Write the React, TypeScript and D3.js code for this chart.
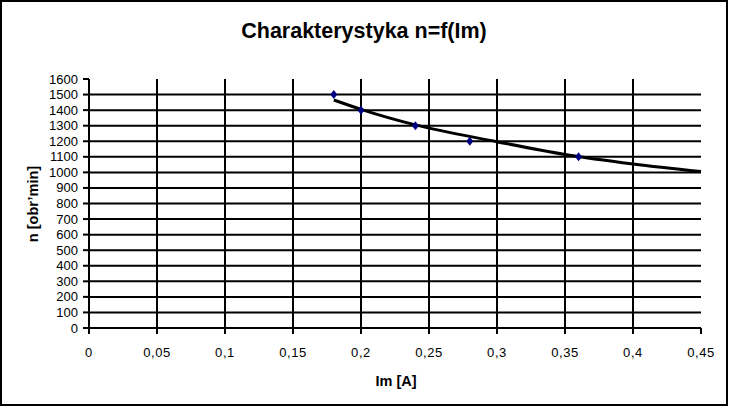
import React from "react";
import * as d3 from "d3";

const title = "Charakterystyka n=f(Im)";
const xTitle = "Im [A]";
const yTitle = "n [obr’min]";

// measured points
const currentA = [0.18, 0.2, 0.24, 0.28, 0.36];
const speedRpm = [1500, 1400, 1300, 1200, 1100];

// trend curve
const trendI = [0.18, 0.2, 0.24, 0.3, 0.35, 0.4, 0.45];
const trendN = [1465, 1405, 1305, 1197, 1115, 1054, 1005];

const xTicks = [0, 0.05, 0.1, 0.15, 0.2, 0.25, 0.3, 0.35, 0.4, 0.45];
const yTicks = d3.range(0, 1601, 100);

const W = 730;
const H = 407;
const left = 89;
const right = 701;
const top = 79;
const bottom = 328;

export default function App() {
  const x = d3.scaleLinear().domain([0, 0.45]).range([left, right]);
  const y = d3.scaleLinear().domain([0, 1600]).range([bottom, top]);
  const fmt = (v: number) => String(+v.toFixed(2)).replace(".", ",");

  const line = d3
    .line<[number, number]>()
    .x((d) => x(d[0]))
    .y((d) => y(d[1]))
    .curve(d3.curveMonotoneX);
  const trend: [number, number][] = trendI.map((v, i) => [v, trendN[i]]);

  const font = "'Liberation Sans', Arial, sans-serif";

  return (
    <svg
      width={W}
      height={H}
      style={{ position: "absolute", left: 0, top: 0, background: "#fff" }}
      fontFamily={font}
    >
      <rect x={1} y={1} width={726} height={404} fill="#fff" stroke="#000" strokeWidth={2} />
      <text x={364} y={38} textAnchor="middle" fontSize={21.5} fontWeight="bold">
        {title}
      </text>

      {/* horizontal gridlines */}
      {yTicks.filter((t) => t > 0 && t < 1600).map((t) => (
        <line key={"hg" + t} x1={left} x2={right} y1={y(t)} y2={y(t)} stroke="#000" strokeWidth={2} />
      ))}
      {/* vertical gridlines */}
      {xTicks.filter((t) => t > 0 && t < 0.45).map((t) => (
        <line key={"vg" + t} x1={x(t)} x2={x(t)} y1={top} y2={bottom} stroke="#000" strokeWidth={2} />
      ))}

      {/* axes */}
      <line x1={left} x2={left} y1={top} y2={bottom} stroke="#000" strokeWidth={2} />
      <line x1={left} x2={right} y1={bottom} y2={bottom} stroke="#000" strokeWidth={2} />
      {yTicks.map((t) => (
        <g key={"yt" + t}>
          <line x1={left - 6} x2={left} y1={y(t)} y2={y(t)} stroke="#000" strokeWidth={2} />
          <text x={78} y={y(t) + 4.5} textAnchor="end" fontSize={13}>
            {t}
          </text>
        </g>
      ))}
      {xTicks.map((t) => (
        <g key={"xt" + t}>
          <line x1={x(t)} x2={x(t)} y1={bottom} y2={bottom + 6} stroke="#000" strokeWidth={2} />
          <text x={x(t)} y={356.5} textAnchor="middle" fontSize={13} letterSpacing={0.6}>
            {fmt(t)}
          </text>
        </g>
      ))}

      <text x={396} y={386} textAnchor="middle" fontSize={14.5} fontWeight="bold">
        {xTitle}
      </text>
      <text
        transform={`translate(38,204) rotate(-90)`}
        textAnchor="middle"
        fontSize={14.5}
        fontWeight="bold"
      >
        {yTitle}
      </text>

      <path d={line(trend) || ""} fill="none" stroke="#000" strokeWidth={3} />

      {currentA.map((v, i) => {
        const cx = x(v);
        const cy = y(speedRpm[i]);
        return (
          <path
            key={"m" + i}
            d={`M${cx},${cy - 4.5}L${cx + 3.5},${cy}L${cx},${cy + 4.5}L${cx - 3.5},${cy}Z`}
            fill="#000080"
          />
        );
      })}
    </svg>
  );
}
